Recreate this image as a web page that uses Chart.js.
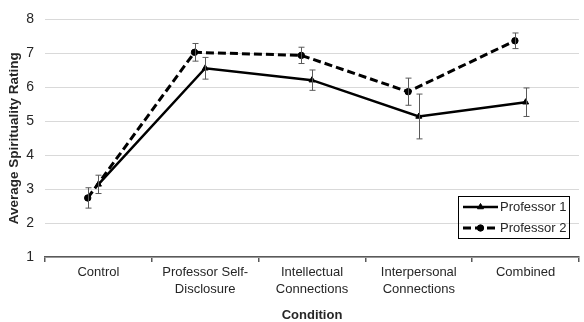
<!DOCTYPE html>
<html><head><meta charset="utf-8">
<script src="https://cdn.jsdelivr.net/npm/chart.js@4/dist/chart.umd.min.js"></script>
<style>html,body{margin:0;padding:0;background:#fff}canvas{display:block}</style>
</head><body>
<canvas id="c" width="584" height="322"></canvas>
<script>
// Condition labels (multi-line where the label wraps)
const conditions = [['Control'], ['Professor Self-', 'Disclosure'], ['Intellectual', 'Connections'], ['Interpersonal', 'Connections'], ['Combined']];
// Mean spirituality ratings and their error-bar half widths
const professor1 = [3.14, 6.56, 6.21, 5.14, 5.56];
const professor1Err = [0.27, 0.32, 0.30, 0.66, 0.42];
const professor2 = [2.74, 7.03, 6.94, 5.87, 7.37];
const professor2Err = [0.30, 0.26, 0.24, 0.40, 0.23];
const ratingTicks = [1, 2, 3, 4, 5, 6, 7, 8];

const FONT = '"Liberation Sans", Arial, sans-serif';
const TEXT = '#262626';
// horizontal dodge (in category units) so the two series do not overlap
const dodge = { p1: 0, p2: -0.1 };

const toPoints = (vals, off) => vals.map((v, i) => ({ x: i + off, y: v }));

const errorBars = {
  id: 'errorBars',
  afterDatasetsDraw(chart) {
    const ctx = chart.ctx;
    const ys = chart.scales.y;
    ctx.save();
    ctx.strokeStyle = '#595959';
    ctx.lineWidth = 1;
    chart.data.datasets.forEach((ds, di) => {
      const meta = chart.getDatasetMeta(di);
      meta.data.forEach((pt, i) => {
        const v = ds.data[i].y, e = ds.errors[i];
        const x = Math.round(pt.x) + 0.5;
        const y1 = ys.getPixelForValue(v + e), y2 = ys.getPixelForValue(v - e);
        ctx.beginPath();
        ctx.moveTo(x, y1); ctx.lineTo(x, y2);
        ctx.moveTo(x - 3, y1); ctx.lineTo(x + 3, y1);
        ctx.moveTo(x - 3, y2); ctx.lineTo(x + 3, y2);
        ctx.stroke();
      });
    });
    ctx.restore();
  }
};

const boxedLegend = {
  id: 'boxedLegend',
  afterDraw(chart) {
    const ctx = chart.ctx;
    const a = chart.chartArea;
    const w = 111, h = 42;
    const left = a.right - 10 - w, top = a.bottom - 19 - h;
    ctx.save();
    ctx.strokeStyle = '#000';
    ctx.lineWidth = 1;
    ctx.strokeRect(Math.round(left) + 0.5, Math.round(top) + 0.5, w, h);
    ctx.font = '13px ' + FONT;
    ctx.textBaseline = 'middle';
    chart.data.datasets.forEach((ds, i) => {
      const cy = top + 11 + i * 21;
      const x0 = left + 5, x1 = left + 40;
      ctx.strokeStyle = ds.borderColor;
      ctx.lineWidth = ds.borderWidth;
      ctx.setLineDash(ds.borderDash || []);
      ctx.beginPath(); ctx.moveTo(x0, cy); ctx.lineTo(x1, cy); ctx.stroke();
      ctx.setLineDash([]);
      ctx.fillStyle = ds.pointBackgroundColor;
      ctx.strokeStyle = ds.pointBorderColor;
      ctx.lineWidth = 1;
      Chart.helpers.drawPoint(ctx, { pointStyle: ds.pointStyle, radius: ds.pointRadius, borderWidth: 1, rotation: 0 }, (x0 + x1) / 2, cy);
      ctx.fillStyle = TEXT;
      ctx.fillText(ds.label, x1 + 2, cy + 0.5);
    });
    ctx.restore();
  }
};

new Chart(document.getElementById('c'), {
  type: 'line',
  data: {
    labels: conditions,
    datasets: [
      {
        label: 'Professor 1', data: toPoints(professor1, dodge.p1), errors: professor1Err,
        xAxisID: 'xPos', borderColor: '#000', borderWidth: 2.5,
        pointStyle: 'triangle', pointRadius: 3.5, pointBorderWidth: 1, pointBackgroundColor: '#000', pointBorderColor: '#000'
      },
      {
        label: 'Professor 2', data: toPoints(professor2, dodge.p2), errors: professor2Err,
        xAxisID: 'xPos', borderColor: '#000', borderWidth: 3, borderDash: [8, 4],
        pointStyle: 'circle', pointRadius: 3.2, pointBorderWidth: 1, pointBackgroundColor: '#000', pointBorderColor: '#000'
      }
    ]
  },
  options: {
    responsive: false,
    animation: false,
    layout: { padding: { top: 18, right: 5, bottom: 0, left: 0 } },
    plugins: { legend: { display: false }, tooltip: { enabled: false } },
    scales: {
      xPos: { type: 'linear', display: false, min: -0.5, max: 4.5 },
      x: {
        type: 'category',
        offset: true,
        afterFit: s => { s.height = 65; },
        border: { display: true, color: '#595959', width: 1.5 },
        grid: { offset: true, drawOnChartArea: false, drawTicks: true, tickLength: 5, color: '#595959', lineWidth: 1.5 },
        ticks: { color: TEXT, padding: 2, maxRotation: 0, autoSkip: false, font: { family: FONT, size: 13, lineHeight: 1.3 } },
        title: { display: true, text: 'Condition', color: TEXT, padding: { top: 0, bottom: 0 }, font: { family: FONT, size: 13, weight: 'bold', lineHeight: 1.05 } }
      },
      y: {
        min: 1, max: 8,
        afterFit: s => { s.width = 45; },
        afterBuildTicks: s => { s.ticks = ratingTicks.map(v => ({ value: v })); },
        border: { display: false },
        grid: { color: '#d9d9d9', lineWidth: 1, drawTicks: false },
        ticks: { color: TEXT, padding: 11, font: { family: FONT, size: 14 } },
        title: { display: true, text: 'Average Spirituality Rating', color: TEXT, padding: { top: 6, bottom: 0 }, font: { family: FONT, size: 13.5, weight: 'bold' } }
      }
    }
  },
  plugins: [errorBars, boxedLegend]
});
</script>
</body></html>
